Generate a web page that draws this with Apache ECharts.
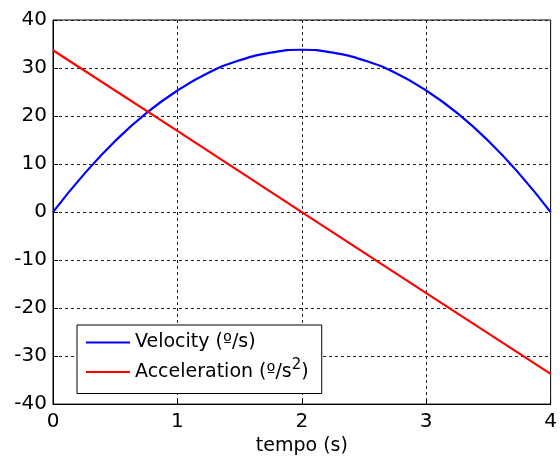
<!DOCTYPE html>
<html>
<head>
<meta charset="utf-8">
<script src="https://cdn.jsdelivr.net/npm/echarts@6/dist/echarts.min.js"></script>
<style>
  html, body { margin: 0; padding: 0; background: #fff; }
  #chart { width: 560px; height: 461px; }
</style>
</head>
<body>
<div id="chart"></div>
<script>
// values
var tempo = [0, 0.25, 0.5, 0.75, 1, 1.25, 1.5, 1.75, 2, 2.25, 2.5, 2.75, 3, 3.25, 3.5, 3.75, 4];
var velocity = [0, 7.9, 14.8, 20.6, 25.3, 29.0, 31.6, 33.2, 33.8, 33.2, 31.6, 29.0, 25.3, 20.6, 14.8, 7.9, 0];
var accelTempo = [0, 1, 2, 3, 4];
var acceleration = [33.7, 16.9, 0, -16.9, -33.7];

var FONT = "'DejaVu Sans', sans-serif";

var chart = echarts.init(document.getElementById("chart"));

var option = {
  animation: false,
  grid: {
    left: 53,
    right: 8,
    top: 20,
    bottom: 53,
    show: true,
    borderColor: "#000",
    borderWidth: 1
  },
  legend: {
    orient: "vertical",
    left: 77,
    top: 325,
    padding: [8, 13, 12, 9],
    itemGap: 6,
    itemWidth: 44,
    itemHeight: 2,
    icon: "rect",
    backgroundColor: "#fff",
    borderColor: "#000",
    borderWidth: 1,
    borderRadius: 0,
    textStyle: {
      fontFamily: FONT,
      fontSize: 19,
      color: "#000",
      rich: {
        a: { fontFamily: FONT, fontSize: 19, lineHeight: 28, color: "#000" },
        sup: { fontFamily: FONT, fontSize: 15, lineHeight: 15, verticalAlign: "top", color: "#000" }
      }
    },
    formatter: function (name) {
      if (name === "Acceleration") return "{a|Acceleration (º/s}{sup|2}{a|)}";
      return "{a|Velocity (º/s)}";
    },
    data: ["Velocity", "Acceleration"]
  },
  xAxis: {
    type: "value",
    min: 0,
    max: 4,
    interval: 1,
    name: "tempo (s)",
    nameLocation: "middle",
    nameGap: 32,
    nameTextStyle: { fontFamily: FONT, fontSize: 19, color: "#000" },
    axisLine: { show: true, onZero: false, lineStyle: { color: "#000", width: 1 } },
    axisTick: { show: true, inside: true, length: 5, lineStyle: { color: "#000" } },
    axisLabel: { fontFamily: FONT, fontSize: 20, color: "#000", margin: 8 },
    splitLine: { show: true, lineStyle: { color: "#222", type: [3, 3], width: 1 } }
  },
  yAxis: {
    type: "value",
    min: -40,
    max: 40,
    interval: 10,
    axisLine: { show: true, onZero: false, lineStyle: { color: "#000", width: 1 } },
    axisTick: { show: true, inside: true, length: 5, lineStyle: { color: "#000" } },
    axisLabel: { fontFamily: FONT, fontSize: 20, color: "#000", margin: 6 },
    splitLine: { show: true, lineStyle: { color: "#222", type: [3, 3], width: 1 } }
  },
  series: [
    {
      name: "Velocity",
      type: "line",
      smooth: true,
      showSymbol: false,
      data: tempo.map(function (t, i) { return [t, velocity[i]]; }),
      itemStyle: { color: "#0000ff" },
      lineStyle: { color: "#0000ff", width: 2.2 }
    },
    {
      name: "Acceleration",
      type: "line",
      showSymbol: false,
      data: accelTempo.map(function (t, i) { return [t, acceleration[i]]; }),
      itemStyle: { color: "#ff0000" },
      lineStyle: { color: "#ff0000", width: 2.2 }
    }
  ]
};

chart.setOption(option);
</script>
</body>
</html>
